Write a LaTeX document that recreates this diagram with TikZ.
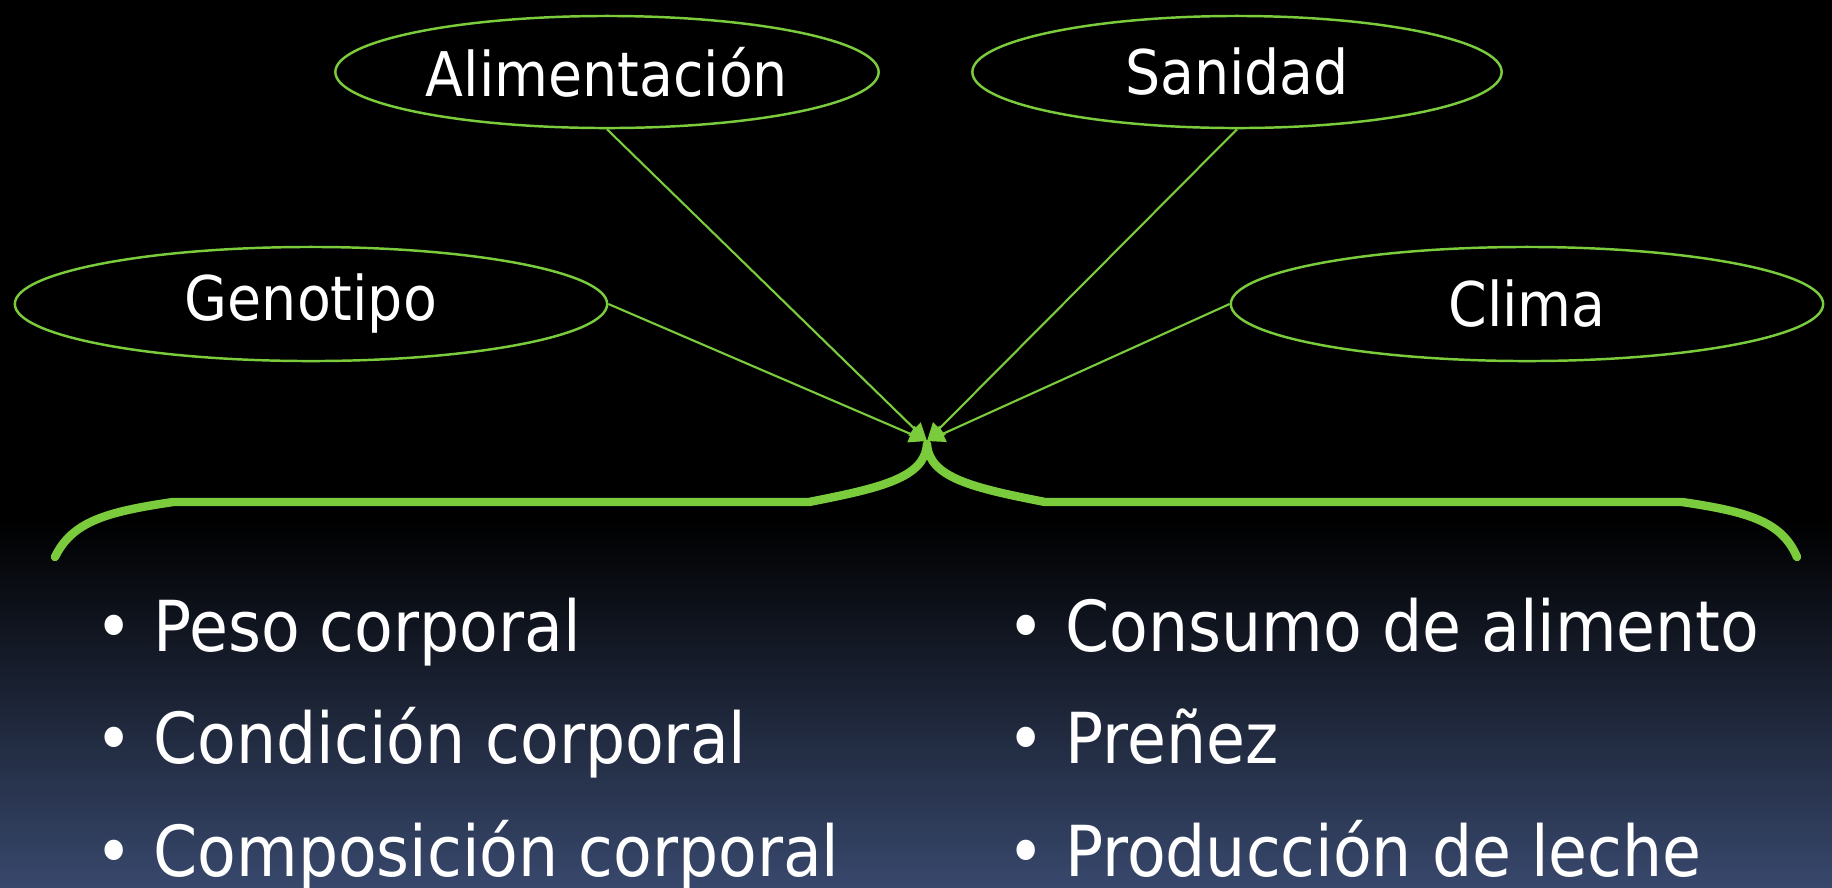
\documentclass[tikz,border=0pt]{standalone}
\usepackage{fontspec}
\setmainfont{DejaVu Sans Condensed}
\usetikzlibrary{shapes.geometric,arrows.meta}
\definecolor{lgreen}{RGB}{122,204,60}
\definecolor{navy}{RGB}{56,72,108}
\tikzset{
  factor/.style={ellipse, draw=lgreen, line width=0.7pt, inner sep=0pt, text=white, font=\fontsize{17.5}{20}\selectfont},
  link/.style={draw=lgreen, line width=0.6pt, -{Triangle[length=5pt,width=5pt]}},
  item/.style={anchor=base west, inner sep=0pt, text=white, font=\fontsize{20}{24}\selectfont},
  brace/.style={draw=lgreen, line width=2.4pt, line cap=round, line join=round}
}
\newcommand{\bul}{\llap{\textbullet\hspace{0.3em}}}
\begin{document}
\begin{tikzpicture}[x=0.01cm,y=-0.01cm]
\useasboundingbox (0,0) rectangle (1832,887);
\fill[black] (0,0) rectangle (1832,887);
\shade[top color=black, bottom color=navy] (0,520) rectangle (1832,887);
\node[factor, minimum width=5.43cm, minimum height=1.12cm] (alim) at (607,72) {Alimentación};
\node[factor, minimum width=5.29cm, minimum height=1.12cm] (sani) at (1237,72) {Sanidad};
\node[factor, minimum width=5.92cm, minimum height=1.14cm] (geno) at (311,304) {Genotipo};
\node[factor, minimum width=5.92cm, minimum height=1.14cm] (clim) at (1527,304) {Clima};
\coordinate (tip) at (927,441);
\draw[link] (geno.east) -- (tip);
\draw[link] (alim.south) -- (tip);
\draw[link] (sani.south) -- (tip);
\draw[link] (clim.west) -- (tip);
\coordinate (bl) at (55,557);
\coordinate (br) at (1797,557);
\coordinate (bt) at (927,444);
\draw[brace] (bl) .. controls (72,522) and (105,512) .. (173,502) -- (809,502)
  .. controls (880,488) and (925,478) .. (bt)
  .. controls (929,478) and (974,488) .. (1045,502) -- (1682,502)
  .. controls (1750,512) and (1782,522) .. (br);
\node[item] (i1) at (153,651) {\bul Peso corporal};
\node[item] (i2) at (153,763) {\bul Condición corporal};
\node[item] (i3) at (153,876) {\bul Composición corporal};
\node[item] (j1) at (1065,651) {\bul Consumo de alimento};
\node[item] (j2) at (1065,763) {\bul Preñez};
\node[item] (j3) at (1065,876) {\bul Producción de leche};
\end{tikzpicture}
\end{document}
